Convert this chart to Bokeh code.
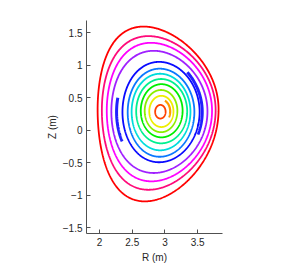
import numpy as np
from bokeh.plotting import figure
from bokeh.models import Range1d, FixedTicker
from bokeh.embed import file_html
from bokeh.resources import INLINE

# Flux-surface shape parameters (outer -> inner)
surf_R0 = [2.895, 2.905, 2.915, 2.915, 2.94, 2.94, 2.94, 2.95, 2.95, 2.94, 2.945, 2.93]
surf_Z0 = [0.32, 0.31, 0.30, 0.29, 0.28, 0.28, 0.285, 0.29, 0.30, 0.30, 0.29, 0.285]
surf_a = [0.925, 0.87, 0.805, 0.735, 0.59, 0.51, 0.45, 0.39, 0.32, 0.25, 0.185, 0.08]
surf_kup = [1.38, 1.31, 1.30, 1.27, 1.31, 1.31, 1.30, 1.28, 1.28, 1.28, 1.30, 1.31]
surf_klo = [1.53, 1.41, 1.35, 1.29, 1.31, 1.35, 1.32, 1.26, 1.28, 1.32, 1.30, 1.31]
surf_dup = [0.24, 0.18, 0.16, 0.12, 0.05, 0.04, 0.03, 0.02, 0.01, 0.0, 0.0, 0.0]
surf_dlo = [0.22, 0.18, 0.15, 0.12, 0.05, 0.04, 0.03, 0.02, 0.01, 0.0, 0.0, 0.0]
surf_colors = ["#ff0000", "#ff0a7a", "#ff00ff", "#a020ff", "#0a0aff", "#0a78ff",
               "#00dcdc", "#00f090", "#00ee00", "#8cee00", "#eeee00", "#ff4000"]

# Partial arcs: (R0, Z0, a, kappa, delta, theta start deg, theta end deg)
arc_R0 = [2.94, 2.915, 2.915]
arc_Z0 = [0.29, 0.28, 0.28]
arc_a = [0.14, 0.655, 0.655]
arc_k = [1.3, 1.3, 1.3]
arc_d = [0.0, 0.08, 0.08]
arc_t0 = [-30, 165, -24]
arc_t1 = [65, 212, 46]
arc_colors = ["#ff9900", "#2020ff", "#2020ff"]
arc_widths = [2.2, 3.0, 3.0]

x_ticks = [2, 2.5, 3, 3.5]
y_ticks = [-1.5, -1, -0.5, 0, 0.5, 1, 1.5]


def miller(R0, Z0, a, ku, kl, du, dl, th):
    s = np.sin(th)
    up = s >= 0
    k = np.where(up, ku, kl)
    d = np.where(up, du, dl)
    R = R0 + a * np.cos(th + np.arcsin(d) * s)
    Z = Z0 + k * a * s
    return R, Z


p = figure(width=287, height=265, output_backend="svg", toolbar_location=None,
           x_range=Range1d(1.8, 3.88), y_range=Range1d(-1.59, 1.69),
           min_border_left=86, min_border_right=65, min_border_top=20, min_border_bottom=30)
p.outline_line_color = None
p.grid.visible = False
p.background_fill_color = "white"
p.border_fill_color = "white"

th = np.linspace(0, 2 * np.pi, 600)
for i in range(len(surf_R0)):
    R, Z = miller(surf_R0[i], surf_Z0[i], surf_a[i], surf_kup[i], surf_klo[i],
                  surf_dup[i], surf_dlo[i], th)
    p.line(R, Z, line_color=surf_colors[i], line_width=1.8)

for i in range(len(arc_R0)):
    t = np.radians(np.linspace(arc_t0[i], arc_t1[i], 120))
    R, Z = miller(arc_R0[i], arc_Z0[i], arc_a[i], arc_k[i], arc_k[i], arc_d[i], arc_d[i], t)
    p.line(R, Z, line_color=arc_colors[i], line_width=arc_widths[i])

font = "Liberation Sans"
for ax in (p.xaxis[0], p.yaxis[0]):
    ax.axis_line_color = "#505050"
    ax.major_tick_line_color = "#505050"
    ax.major_tick_in = 4
    ax.major_tick_out = 0
    ax.minor_tick_line_color = None
    ax.major_label_text_font = font
    ax.major_label_text_font_size = "10px"
    ax.major_label_text_color = "#262626"
    ax.axis_label_text_font = font
    ax.axis_label_text_font_size = "10px"
    ax.axis_label_text_font_style = "normal"
    ax.axis_label_text_color = "#262626"

p.xaxis.ticker = FixedTicker(ticks=x_ticks)
p.yaxis.ticker = FixedTicker(ticks=y_ticks)
p.xaxis.major_label_overrides = {t: (("%g" % t).replace("-", "\u2212")) for t in x_ticks}
p.yaxis.major_label_overrides = {t: (("%g" % t).replace("-", "\u2212")) for t in y_ticks}
p.xaxis.axis_label = "R (m)"
p.yaxis.axis_label = "Z (m)"
p.xaxis.major_label_standoff = 4
p.xaxis.axis_label_standoff = 3
p.yaxis.major_label_standoff = 4
p.yaxis.axis_label_standoff = 2

open("out.html", "w").write(file_html(p, INLINE))
